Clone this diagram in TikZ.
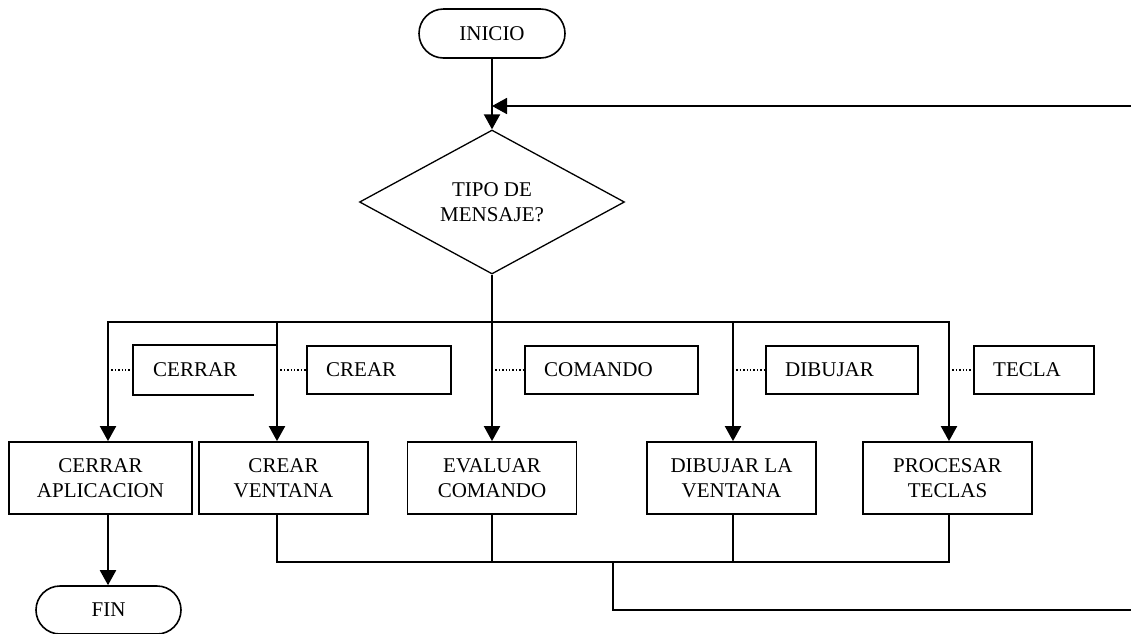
\documentclass[tikz,border=0pt]{standalone}
\usepackage{fontspec}
\setmainfont{Liberation Serif}
\usetikzlibrary{shapes.geometric,shapes.misc,arrows.meta}
\begin{document}
\begin{tikzpicture}[x=1pt,y=-1pt,
  every node/.style={font=\fontsize{21}{25}\selectfont},
  terminal/.style={draw,line width=1.6pt,rounded rectangle,minimum width=146pt,minimum height=49pt,inner sep=0pt},
  decision/.style={draw,line width=1.3pt,diamond,minimum width=265pt,minimum height=144pt,inner sep=0pt,align=center},
  process/.style={draw,line width=1.8pt,minimum height=72pt,inner sep=0pt,align=center},
  tagbox/.style={draw,line width=1.6pt,minimum height=48pt,inner sep=0pt,anchor=west},
  tagtext/.style={anchor=west,xshift=20pt,inner sep=0pt},
  flow/.style={line width=2pt,-{Triangle[length=15pt,width=16pt]}},
  bus/.style={line width=2pt,line cap=rect},
  ret/.style={line width=1.6pt},
  leader/.style={line width=1.4pt,dotted}
]
\useasboundingbox (0,0) rectangle (1131,633);
\clip (0,0) rectangle (1131,633);

% start and decision
\node[terminal] (inicio) at (492,33.5) {INICIO};
\node[decision] (tipo) at (492,202) {TIPO DE\\MENSAJE?};

% message handlers
\node[process,minimum width=183pt] (cerrar) at (100.5,478) {CERRAR\\APLICACION};
\node[process,minimum width=169pt] (crear) at (283.5,478) {CREAR\\VENTANA};
\node[process,minimum width=169pt] (evaluar) at (492,478) {EVALUAR\\COMANDO};
\node[process,minimum width=169pt] (dibujar) at (731.5,478) {DIBUJAR LA\\VENTANA};
\node[process,minimum width=169pt] (procesar) at (947.5,478) {PROCESAR\\TECLAS};
\node[terminal,minimum width=145pt,minimum height=48pt] (fin) at (108.5,610) {FIN};

% branch points on the distribution bus
\coordinate (b1) at (108,322);
\coordinate (b2) at (277,322);
\coordinate (b3) at (492,322);
\coordinate (b4) at (733,322);
\coordinate (b5) at (949,322);

% message tags
\node[tagbox,draw=none,minimum width=119pt,label={[tagtext]west:CERRAR}] (tcerrar) at (133,370) {};
\node[tagbox,minimum width=144pt,label={[tagtext]west:CREAR}] (tcrear) at (306,370) {};
\node[tagbox,minimum width=173pt,label={[tagtext]west:COMANDO}] (tcomando) at (524,370) {};
\node[tagbox,minimum width=152pt,label={[tagtext]west:DIBUJAR}] (tdibujar) at (765,370) {};
\node[tagbox,minimum width=120pt,label={[tagtext]west:TECLA}] (ttecla) at (973,370) {};
\draw[line width=1.6pt] (b2 |- tcerrar.north) -- (tcerrar.north west) -- (tcerrar.south west) -- (tcerrar.south east);

% dotted leaders from the branches to the tags
\draw[leader] (b1 |- tcerrar.west) -- (tcerrar.west);
\draw[leader] (b2 |- tcrear.west) -- (tcrear.west);
\draw[leader] (b3 |- tcomando.west) -- (tcomando.west);
\draw[leader] (b4 |- tdibujar.west) -- (tdibujar.west);
\draw[leader] (b5 |- ttecla.west) -- (ttecla.west);

% main flow
\draw[flow] (inicio.south) -- (tipo.north);
\draw[flow] (tipo.south) -- (evaluar.north);
\draw[bus] (b1) -- (b5);
\draw[flow] (b1) -- (b1 |- cerrar.north);
\draw[flow] (b2) -- (b2 |- crear.north);
\draw[flow] (b4) -- (b4 |- dibujar.north);
\draw[flow] (b5) -- (b5 |- procesar.north);
\draw[flow] (cerrar.south -| b1) -- (fin.north -| b1);

% collecting lines and loop back to the decision
\coordinate (r) at (613,562);
\coordinate (rb) at (613,610);
\coordinate (re) at (1140,610);
\coordinate (rt) at (1140,106);
\coordinate (top) at (492,106);
\draw[ret] (crear.south -| b2) -- (b2 |- r) -- (b5 |- r) -- (procesar.south -| b5);
\draw[ret] (evaluar.south) -- (evaluar.south |- r);
\draw[ret] (dibujar.south -| b4) -- (b4 |- r);
\draw[flow,line width=1.8pt] (r) -- (rb) -- (re) -- (rt) -- (top);
\end{tikzpicture}
\end{document}
